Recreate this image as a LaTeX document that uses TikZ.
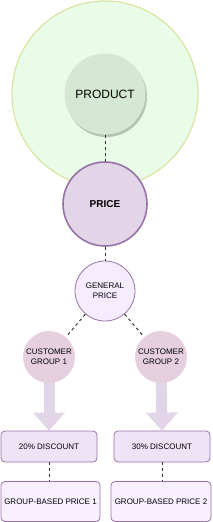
\documentclass[tikz,border=0pt]{standalone}
\usepackage{fontspec}
\setmainfont{Liberation Sans}
\usetikzlibrary{arrows.meta,backgrounds}
\definecolor{outerfill}{RGB}{232,252,232}
\definecolor{outerline}{RGB}{218,228,160}
\definecolor{prodfill}{RGB}{213,232,212}
\definecolor{prodshadow}{RGB}{180,196,178}
\definecolor{purpline}{RGB}{150,115,166}
\definecolor{pricefill}{RGB}{225,213,231}
\definecolor{genfill}{RGB}{246,236,255}
\definecolor{grpfill}{RGB}{230,208,224}
\definecolor{arrowfill}{RGB}{225,213,231}
\definecolor{discfill}{RGB}{238,228,246}
\definecolor{gbpfill}{RGB}{248,240,255}
\definecolor{dashcol}{RGB}{51,51,51}
\tikzset{
  x=1pt,y=-1pt,
  every node/.style={font=\fontsize{8}{10}\selectfont, align=center, inner sep=0pt},
  circ/.style={circle, minimum size=#1},
  link/.style={draw=dashcol, line width=1pt, dash pattern=on 3pt off 3pt},
  blockarrow/.style={draw=arrowfill, line width=11pt, -{Triangle[width=31pt,length=18pt]}, arrowfill},
  boxa/.style={draw=purpline, line width=0.8pt, rounded corners=4pt, fill=discfill, minimum width=96pt, minimum height=31pt},
  boxb/.style={draw=purpline, line width=0.8pt, rounded corners=4pt, fill=gbpfill, minimum height=40pt},
}
\begin{document}
\begin{tikzpicture}
\useasboundingbox (0,0) rectangle (213,522);
% outer circle
\node[circ=186pt, draw=outerline, line width=1.2pt, fill=outerfill] (outer) at (105,94) {};
% product with shadow
\fill[prodshadow] (106.5,96.5) circle (40.5);
\node[circ=81pt, fill=prodfill, font=\fontsize{12}{14}\selectfont] (product) at (105,94) {PRODUCT};
% price
\node[circ=84pt, draw=purpline, line width=1.6pt, fill=pricefill, font=\bfseries\fontsize{10}{12}\selectfont] (price) at (105,204) {PRICE};
% general price
\node[circ=60pt, draw=purpline, line width=0.8pt, fill=genfill] (gen) at (105,291) {GENERAL\\PRICE};
% customer groups
\node[circ=52pt, fill=grpfill] (g1) at (49,357) {CUSTOMER\\GROUP 1};
\node[circ=52pt, fill=grpfill] (g2) at (161,357) {CUSTOMER\\GROUP 2};
% boxes
\node[boxa] (d1) at (49,446.5) {20\% DISCOUNT};
\node[boxa] (d2) at (162,446.5) {30\% DISCOUNT};
\node[boxb, minimum width=99pt] (p1) at (50.5,501.5) {GROUP-BASED PRICE 1};
\node[boxb, minimum width=100pt] (p2) at (161,501.5) {GROUP-BASED PRICE 2};
% connectors
\draw[link] (product) -- (price);
\draw[link] (price) -- (gen);
\draw[link] (gen) -- (g1);
\draw[link] (gen) -- (g2);
\draw[link] (d1) -- (d1 |- p1.north);
\draw[link] (d2) -- (d2 |- p2.north);
\begin{scope}[on background layer]
\draw[blockarrow] (g1.center) -- (d1.north);
\draw[blockarrow] (g2.center) -- (d2.north);
\end{scope}
\end{tikzpicture}
\end{document}
